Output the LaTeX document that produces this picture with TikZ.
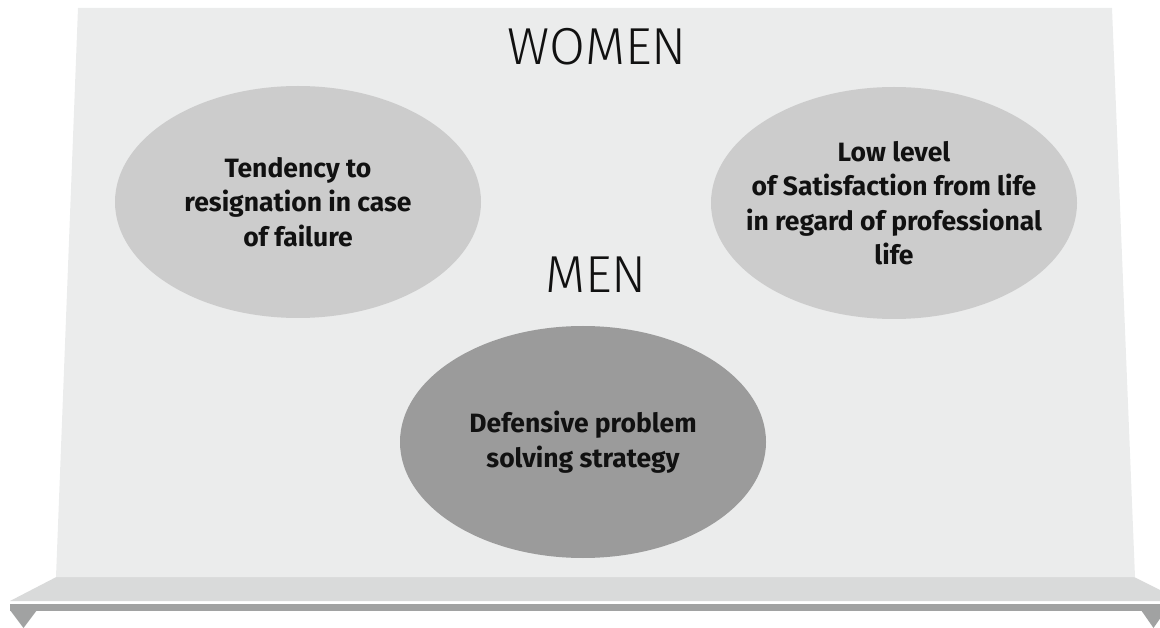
\documentclass[tikz,border=0pt]{standalone}
\usepackage{fontspec}
\setmainfont{Fira Sans}
\newfontfamily\thinfont{Fira Sans Light}
\usepackage{tikz}
\usepackage{xcolor}
\usetikzlibrary{shapes.geometric}
\definecolor{wall}{HTML}{EBECEC}
\definecolor{shelftop}{HTML}{D9DADA}
\definecolor{shelfbar}{HTML}{A1A2A2}
\definecolor{bubblelight}{HTML}{CCCCCC}
\definecolor{bubbledark}{HTML}{9B9B9B}
\definecolor{ink}{HTML}{111111}
\tikzset{
  board/.style={fill=wall,draw=none},
  ledge/.style={fill=shelftop,draw=none},
  rail/.style={fill=shelfbar,draw=none},
  bubble/.style={ellipse,fill=bubblelight,draw=none,
                 minimum width=366pt,minimum height=232pt,
                 inner xsep=-40pt,inner ysep=0pt,
                 align=center,text=ink,
                 font=\fontsize{26.5}{34.5}\selectfont\bfseries},
  darkbubble/.style={bubble,fill=bubbledark},
  heading/.style={anchor=base,inner sep=0pt,text=ink,
                  font=\fontsize{52}{52}\selectfont\thinfont}
}

\begin{document}
\begin{tikzpicture}[x=1pt,y=-1pt]
  \useasboundingbox (0,0) rectangle (1160,628);
  % shelf under the board
  \fill[ledge] (66,572) -- (1124,572) -- (1182,601) -- (10,601) -- cycle;
  \fill[rail] (10,604) rectangle (1170,611);
  \fill[rail] (10,610) -- (37,610) -- (23.5,628) -- cycle;
  \fill[rail] (1141,610) -- (1166,610) -- (1153.5,628) -- cycle;
  % board
  \fill[board] (78,8) -- (1112,8) -- (1135,577) -- (56,577) -- cycle;

  \node[heading] (women) at (597,65) {WOMEN};
  \node[heading] (men) at (596,293) {MEN};

  \node[bubble] (tendency) at (298,202)
    {Tendency to\\resignation in case\\of failure};
  \node[bubble] (satisfaction) at (894,203)
    {Low level\\of Satisfaction from life\\in regard of professional\\life};
  \node[darkbubble] (defensive) at (583,442)
    {Defensive problem\\solving strategy};
\end{tikzpicture}
\end{document}
